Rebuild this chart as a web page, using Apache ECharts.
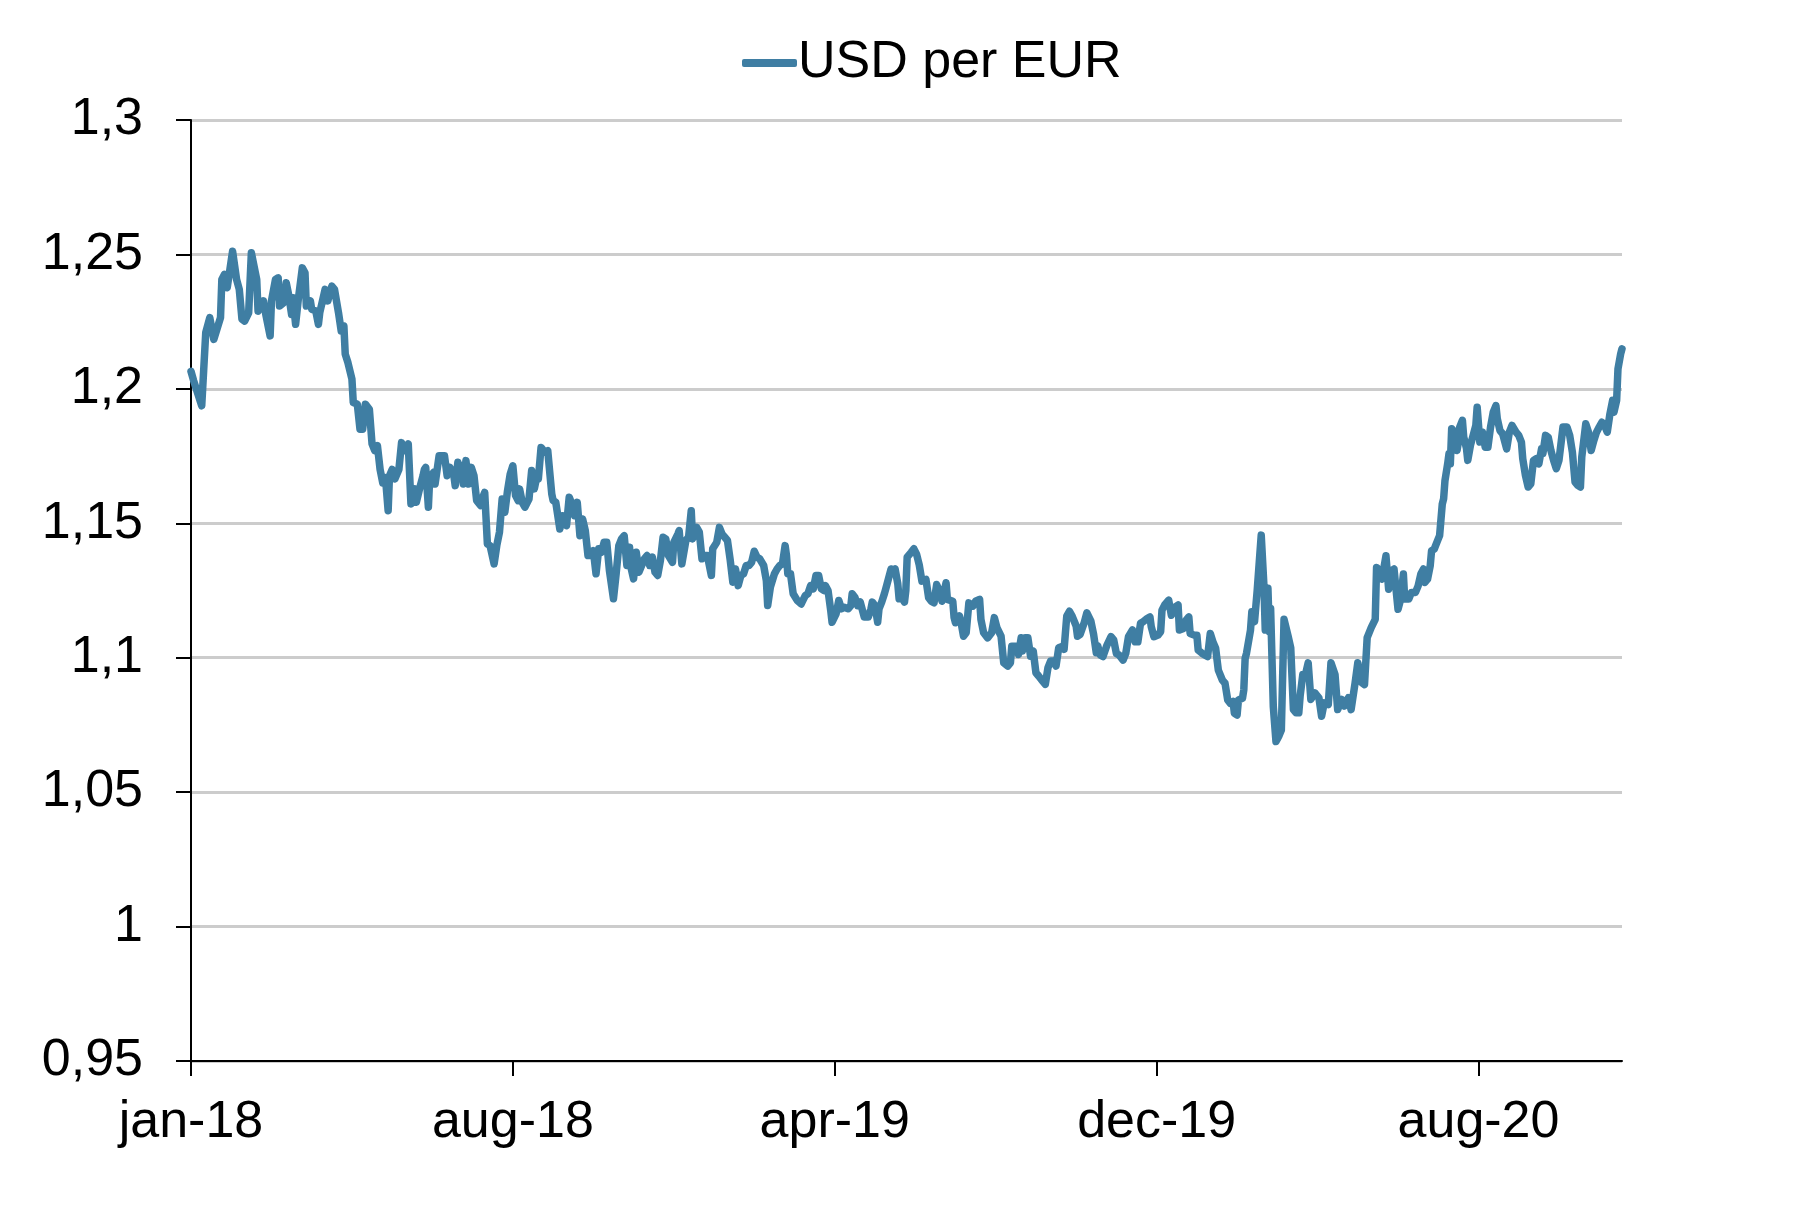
<!DOCTYPE html>
<html>
<head>
<meta charset="utf-8">
<script src="https://cdn.jsdelivr.net/npm/echarts@6/dist/echarts.min.js"></script>
<style>
html,body{margin:0;padding:0;background:#fff;}
#chart{width:1806px;height:1209px;}
</style>
</head>
<body>
<div id="chart"></div>
<script>
// x = days since 2 Jan 2018 (first observation)
const dayIndex = [
0,2,8,11,14,17,22,23,25,27,31,34,36,38,40,43,45,49,50,54,56,59,60,63,65,66,69,71,73,75,76,78,80,83,85,86,89,90,93,95,96,100,102,105,107,110,112,114,115,117,120,121,124,126,128,130,
131,133,135,137,139,141,143,145,147,148,150,152,155,157,159,162,164,167,168,171,173,174,175,177,178,181,182,185,187,189,191,193,196,197,199,201,202,203,205,207,209,211,213,216,217,219,221,223,226,228,230,232,234,236,238,240,242,244,245,247,249,252,254,256,258,259,261,264,266,
267,269,270,272,275,277,280,282,284,286,288,290,292,294,296,298,300,302,304,306,308,310,312,315,317,319,321,323,325,327,328,330,332,334,336,338,340,342,344,346,348,350,352,354,356,359,360,363,364,366,369,371,373,374,377,379,381,383,385,388,389,392,394,396,398,400,
402,404,406,408,410,412,414,416,418,420,422,424,427,429,430,432,435,437,439,441,443,444,445,447,449,452,455,458,460,462,464,466,468,470,472,473,475,477,478,481,483,485,487,490,492,493,495,497,499,501,502,505,507,508,510,512,513,515,517,518,520,522,523,525,527,528,530,532,533,534,537,539,
541,543,545,548,550,552,554,556,558,560,563,564,568,569,570,573,574,576,578,580,583,585,588,589,591,594,597,599,601,604,606,609,611,612,615,617,619,620,622,624,626,628,630,632,635,637,639,641,643,645,647,650,651,653,655,657,660,661,663,666,668,671,673,675,
676,678,680,683,686,688,690,692,695,697,699,702,704,706,708,710,713,715,716,718,721,723,724,726,729,731,734,736,737,740,742,744,745,748,750,751,754,756,758,760,762,764,766,769,771,773,775,777,778,780,781,784,785,786,787,790,791,793,795,798,800,801,803,804,805,807,809,811,813,
815,818,820,822,824,826,827,829,831,833,835,838,841,843,845,848,850,853,855,858,860,863,865,868,870,873,875,877,880,883,884,886,888,891,893,895,897,900,902,904,905,908,910,913,915,917,919,920,922,924,925,927,928,930,931,933,934,935,937,938,939,940,942,944,945,946,948,
949,951,952,954,956,958,959,961,963,965,967,969,971,973,974,976,978,981,983,985,988,990,992,993,995,997,999,1001,1003,1005,1007,1008,1010,1012,1014,1016,1018,1020,1023,1026,1028,1030,1032,1034,1036,1037,1040,1042,1044,1046,1048,1050,1052,1054,1056,1058,1060,1061,1063,1064,1066,1067
];
const usdPerEur = [
1.2065,1.2030,1.1937,1.2210,1.2265,1.2184,1.2265,1.2407,1.2426,1.2376,1.2512,1.2407,1.2370,1.2259,1.2252,1.2283,1.2506,1.2407,1.2289,1.2327,1.2271,1.2197,1.2327,1.2407,1.2413,1.2308,1.2320,1.2395,1.2345,1.2277,1.2339,1.2240,1.2333,1.2450,1.2432,1.2308,1.2327,1.2296,1.2290,1.2240,1.2283,1.2370,1.2327,1.2382,1.2370,1.2283,1.2215,1.2234,1.2129,1.2098,1.2036,1.1949,1.1943,1.1850,1.1850,1.1943,
1.1950,1.1924,1.1795,1.1770,1.1789,1.1700,1.1650,1.1670,1.1547,1.1677,1.1700,1.1665,1.1700,1.1800,1.1770,1.1795,1.1572,1.1628,1.1578,1.1640,1.1677,1.1700,1.1708,1.1560,1.1670,1.1690,1.1646,1.1751,1.1751,1.1751,1.1677,1.1708,1.1677,1.1640,1.1727,1.1690,1.1714,1.1646,1.1733,1.1646,1.1708,1.1677,1.1584,1.1566,1.1590,1.1615,1.1423,1.1417,1.1349,1.1417,1.1467,1.1590,1.1541,1.1621,1.1683,1.1714,1.1603,1.1584,1.1628,1.1578,1.1560,1.1590,1.1696,1.1628,1.1677,1.1665,1.1782,1.1764,1.1770,
1.1772,1.1609,1.1585,1.1578,1.1479,1.1528,1.1491,1.1597,1.1572,1.1528,1.1578,1.1454,1.1516,1.1473,1.1380,1.1380,1.1398,1.1312,1.1405,1.1392,1.1429,1.1429,1.1324,1.1219,1.1312,1.1417,1.1442,1.1454,1.1343,1.1411,1.1337,1.1293,1.1392,1.1318,1.1343,1.1368,1.1380,1.1343,1.1374,1.1318,1.1306,1.1361,1.1448,1.1442,1.1380,1.1355,1.1429,1.1460,1.1473,1.1349,1.1436,1.1448,1.1547,1.1442,1.1485,1.1467,1.1368,1.1380,1.1380,1.1306,1.1405,1.1429,1.1485,1.1460,1.1448,1.1436,
1.1365,1.1281,1.1330,1.1268,1.1306,1.1312,1.1343,1.1343,1.1355,1.1396,1.1374,1.1368,1.1343,1.1287,1.1194,1.1262,1.1312,1.1330,1.1343,1.1349,1.1417,1.1380,1.1312,1.1312,1.1238,1.1213,1.1200,1.1231,1.1238,1.1268,1.1256,1.1306,1.1306,1.1256,1.1250,1.1268,1.1250,1.1176,1.1132,1.1163,1.1213,1.1182,1.1188,1.1182,1.1194,1.1238,1.1225,1.1194,1.1207,1.1170,1.1151,1.1151,1.1182,1.1207,1.1194,1.1132,1.1182,1.1207,1.1238,1.1256,1.1293,1.1330,1.1318,1.1330,1.1275,1.1219,1.1225,1.1207,1.1250,1.1374,1.1392,1.1405,
1.1385,1.1345,1.1285,1.1291,1.1223,1.1210,1.1204,1.1272,1.1248,1.1210,1.1279,1.1217,1.1210,1.1149,1.1130,1.1155,1.1136,1.1080,1.1093,1.1204,1.1192,1.1210,1.1217,1.1142,1.1093,1.1074,1.1093,1.1149,1.1111,1.1080,1.0981,1.0969,1.0981,1.1043,1.1043,1.1012,1.1074,1.1025,1.1074,1.1074,1.1006,1.1025,1.0944,1.0932,1.0913,1.0901,1.0963,1.0988,1.0988,1.0969,1.1037,1.1043,1.1031,1.1155,1.1173,1.1155,1.1118,1.1080,1.1087,1.1130,1.1167,1.1136,1.1087,1.1019,
1.1045,1.1010,1.1004,1.1047,1.1078,1.1066,1.1016,1.1010,1.0991,1.1016,1.1078,1.1103,1.1059,1.1059,1.1128,1.1134,1.1146,1.1152,1.1115,1.1078,1.1084,1.1097,1.1177,1.1196,1.1214,1.1158,1.1189,1.1196,1.1103,1.1109,1.1140,1.1152,1.1090,1.1084,1.1084,1.1028,1.1016,1.1010,1.1004,1.1090,1.1059,1.1035,1.0954,1.0917,1.0905,1.0843,1.0830,1.0837,1.0793,1.0787,1.0843,1.0849,1.0880,1.0998,1.1016,1.1103,1.1171,1.1134,1.1251,1.1456,1.1270,1.1103,1.1258,1.1097,1.1183,1.0818,1.0688,1.0707,1.0731,
1.1143,1.1081,1.1037,1.0807,1.0795,1.0795,1.0857,1.0938,1.0938,1.0981,1.0845,1.0869,1.0851,1.0782,1.0832,1.0826,1.0981,1.0938,1.0807,1.0845,1.0820,1.0851,1.0807,1.0907,1.0981,1.0907,1.0900,1.1075,1.1112,1.1143,1.1336,1.1323,1.1292,1.1379,1.1255,1.1323,1.1330,1.1180,1.1218,1.1311,1.1218,1.1218,1.1243,1.1243,1.1267,1.1311,1.1330,1.1280,1.1292,1.1342,1.1398,1.1404,1.1417,1.1442,1.1454,1.1572,1.1591,1.1659,1.1721,1.1759,1.1721,1.1852,1.1840,1.1771,1.1802,1.1858,1.1883,
1.1820,1.1780,1.1734,1.1790,1.1827,1.1864,1.1932,1.1802,1.1839,1.1783,1.1783,1.1858,1.1913,1.1938,1.1889,1.1845,1.1833,1.1777,1.1839,1.1864,1.1839,1.1827,1.1802,1.1740,1.1678,1.1635,1.1647,1.1734,1.1740,1.1721,1.1777,1.1759,1.1827,1.1820,1.1771,1.1734,1.1703,1.1734,1.1858,1.1858,1.1827,1.1765,1.1653,1.1641,1.1635,1.1746,1.1870,1.1839,1.1771,1.1808,1.1839,1.1858,1.1876,1.1864,1.1839,1.1907,1.1957,1.1913,1.1957,1.2074,1.2130,1.2149
];
const tickDays = [0, 240, 480, 720, 960];
const tickLabels = ['jan-18', 'aug-18', 'apr-19', 'dec-19', 'aug-20'];
const lastDay = 1067;
const seriesName = 'USD per EUR';

const FONT = 'Liberation Sans, Arial, sans-serif';
const lineColor = '#3F7EA3';
const chart = echarts.init(document.getElementById('chart'), null, {renderer: 'canvas'});
const points = dayIndex.map((d, i) => [d, usdPerEur[i]]);

chart.setOption({
  animation: false,
  backgroundColor: '#ffffff',
  textStyle: {fontFamily: FONT, color: '#000'},
  legend: {
    top: 32,
    left: 737,
    itemWidth: 55,
    itemHeight: 8,
    itemGap: 10,
    icon: 'roundRect',
    textStyle: {fontFamily: FONT, fontSize: 52, color: '#000', padding: [0, 0, 0, -4]},
    data: [{name: seriesName, itemStyle: {color: lineColor}}]
  },
  grid: {left: 191, right: 184, top: 120, bottom: 148, containLabel: false},
  xAxis: {
    type: 'value',
    min: 0,
    max: lastDay,
    splitLine: {show: false},
    axisLine: {show: true, onZero: false, lineStyle: {color: '#000', width: 2}},
    axisTick: {show: true, length: 15, lineStyle: {color: '#000', width: 2}, customValues: tickDays},
    axisLabel: {
      customValues: tickDays,
      margin: 36,
      fontSize: 52,
      fontFamily: FONT,
      color: '#000',
      formatter: function (v) {
        const i = tickDays.indexOf(Math.round(v));
        return i >= 0 ? tickLabels[i] : '';
      }
    }
  },
  yAxis: {
    type: 'value',
    min: 0.95,
    max: 1.3,
    interval: 0.05,
    axisLine: {show: true, lineStyle: {color: '#000', width: 2}},
    axisTick: {show: true, length: 15, lineStyle: {color: '#000', width: 2}},
    splitLine: {show: true, lineStyle: {color: '#CCCCCC', width: 3}},
    axisLabel: {
      margin: 48,
      fontSize: 52,
      fontFamily: FONT,
      color: '#000',
      formatter: function (v) {
        return String(Math.round(v * 100) / 100).replace('.', ',');
      }
    }
  },
  series: [{
    name: seriesName,
    type: 'line',
    data: points,
    showSymbol: false,
    symbol: 'none',
    smooth: false,
    color: lineColor,
    lineStyle: {color: lineColor, width: 7.5, join: 'round', cap: 'round'},
    z: 3
  }]
});
</script>
</body>
</html>
